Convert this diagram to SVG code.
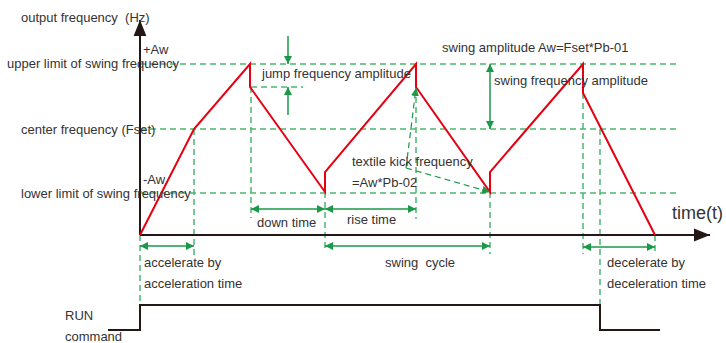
<svg xmlns="http://www.w3.org/2000/svg" width="726" height="343" viewBox="0 0 726 343">
<style>
text{font-family:"Liberation Sans",Arial,sans-serif;font-size:13px;fill:#333;white-space:pre}
.d{stroke:#4cb672;stroke-width:1.5;stroke-dasharray:6,4;fill:none}
.a{stroke:#1a9a48;stroke-width:1.5;fill:none;marker-start:url(#ah);marker-end:url(#ah)}
.a1{stroke:#1a9a48;stroke-width:1.5;fill:none;marker-end:url(#ah)}
.ad{stroke:#1a9a48;stroke-width:1.2;stroke-dasharray:6,4;fill:none;marker-end:url(#ah)}
.k{stroke:#231815;stroke-width:2;fill:none}
.r{stroke:#e60012;stroke-width:2;fill:none;stroke-linejoin:miter}
</style>
<defs>
<marker id="ah" viewBox="0 0 10 10" refX="10" refY="5" markerWidth="8" markerHeight="8" markerUnits="userSpaceOnUse" orient="auto-start-reverse">
<path d="M0,0 L10,5 L0,10 z" fill="#1a9a48"/>
</marker>
<marker id="kh" viewBox="0 0 10 10" refX="10" refY="5" markerWidth="16" markerHeight="16" markerUnits="userSpaceOnUse" orient="auto">
<path d="M0,1 L10,5 L0,9 z" fill="#231815"/>
</marker>
</defs>
<g id="connectors">
<path class="d" d="M140,64 H677 M140,129 H677 M140,193 H677 M251,87 H303"/>
<path class="d" d="M140,235 V305 M194,129 V256 M251,87 V218 M325,192 V252 M416,87 V219 M490,192 V254 M583,93 V254 M600,129 V330 M655,235 V254"/>
<path class="k" d="M140,235 V20" marker-end="url(#kh)"/>
<path class="k" d="M140,235 H710" marker-end="url(#kh)"/>
<path class="k" d="M108,330 H140 V305 H600 V330 H660"/>
<path class="r" d="M140,235 L194,129 L250,64 L250,87 L325,192 L325,172 L416,64 L416,87 L490,192 L490,172 L583,64 L583,93 L655,235"/>
<path class="a" d="M140,246 H194"/>
<path class="a" d="M251,209 H325"/>
<path class="a" d="M325,209 H416"/>
<path class="a" d="M325,246 H490"/>
<path class="a" d="M583,247 H655"/>
<path class="a" d="M490,64 V129"/>
<path class="a1" d="M288,36 V64"/>
<path class="a1" d="M288,115 V87"/>
<path class="ad" d="M406,168 L416,88"/>
<path class="ad" d="M406,168 L490,192"/>
</g>
<g id="labels">
<text x="21" y="22">output frequency  (Hz)</text>
<text x="143" y="54">+Aw</text>
<text x="7" y="68">upper limit of swing frequency</text>
<text x="21" y="134">center frequency (Fset)</text>
<text x="143" y="184">-Aw</text>
<text x="21" y="198">lower limit of swing frequency</text>
<text x="262" y="78">jump frequency amplitude</text>
<text x="442" y="52">swing amplitude Aw=Fset*Pb-01</text>
<text x="494" y="85">swing frequency amplitude</text>
<text x="352" y="166">textile kick frequency</text>
<text x="352" y="187">=Aw*Pb-02</text>
<text x="257" y="227">down time</text>
<text x="347" y="224">rise time</text>
<text x="672" y="219" style="font-size:18px">time(t)</text>
<text x="144" y="267">accelerate by</text>
<text x="144" y="288">acceleration time</text>
<text x="385" y="267">swing  cycle</text>
<text x="607" y="267">decelerate by</text>
<text x="607" y="288">deceleration time</text>
<text x="65" y="320">RUN</text>
<text x="65" y="341">command</text>
</g>
</svg>
